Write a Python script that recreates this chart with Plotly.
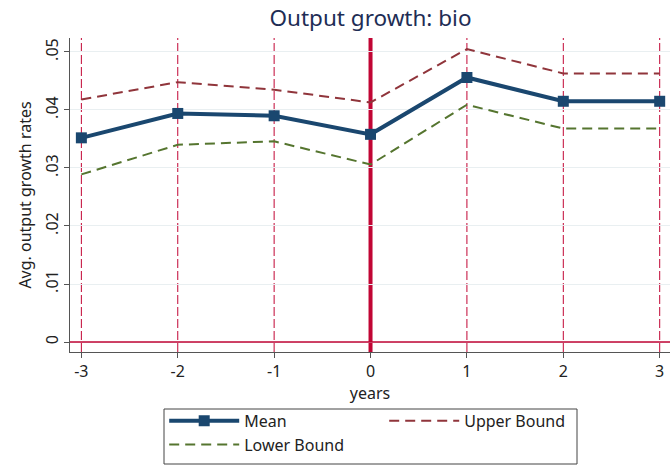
import plotly.graph_objects as go

years = [-3, -2, -1, 0, 1, 2, 3]
mean_vals = [0.0352, 0.0394, 0.0390, 0.0358, 0.0456, 0.0415, 0.0415]
upper_vals = [0.0418, 0.0448, 0.0435, 0.0413, 0.0505, 0.0463, 0.0463]
lower_vals = [0.0289, 0.0340, 0.0346, 0.0306, 0.0409, 0.0368, 0.0368]
dashed_event_years = [-3, -2, -1, 1, 2, 3]
treatment_year = 0
y_ticks = [0, 0.01, 0.02, 0.03, 0.04, 0.05]
y_tick_labels = ["0", ".01", ".02", ".03", ".04", ".05"]

FONT = "Noto Sans"
NAVY = "#1a476f"
MAROON = "#90353b"
GREEN = "#55752f"
CRAN = "#c10534"

fig = go.Figure()
fig.add_trace(go.Scatter(x=years, y=mean_vals, name="Mean", mode="lines+markers",
                         line=dict(color=NAVY, width=4),
                         marker=dict(symbol="square", size=11, color=NAVY)))
fig.add_trace(go.Scatter(x=years, y=upper_vals, name="Upper Bound", mode="lines",
                         line=dict(color=MAROON, width=2, dash="10px,6px")))
fig.add_trace(go.Scatter(x=years, y=lower_vals, name="Lower Bound", mode="lines",
                         line=dict(color=GREEN, width=2, dash="10px,6px")))

for yr in dashed_event_years:
    fig.add_shape(type="line", x0=yr, x1=yr, y0=0, y1=1, xref="x", yref="paper",
                  line=dict(color=CRAN, width=1, dash="9px,3px"), layer="between")
fig.add_shape(type="line", x0=treatment_year, x1=treatment_year, y0=0, y1=1, xref="x", yref="paper",
              line=dict(color=CRAN, width=4), layer="between")
fig.add_shape(type="line", x0=-3.118, x1=3.107, y0=0, y1=0, xref="x", yref="y",
              line=dict(color=CRAN, width=1.6), layer="above")
# legend frame
fig.add_shape(type="rect", xref="paper", yref="paper",
              x0=(164 - 70) / 600, x1=(577 - 70) / 600,
              y0=(352 - 464) / 314, y1=(352 - 409) / 314,
              line=dict(color="#444", width=1), fillcolor="rgba(0,0,0,0)", layer="above")

fig.update_layout(
    width=670, height=468,
    margin=dict(l=70, r=0, t=38, b=116),
    paper_bgcolor="white", plot_bgcolor="white",
    font=dict(family=FONT, size=14, color="#222"),
    title=dict(text="Output growth: bio", x=0.553, xanchor="center", y=0.962, yanchor="middle",
               font=dict(family=FONT, size=22.5, color="#1e2d55")),
    showlegend=True,
    legend=dict(orientation="h", x=0.157, xanchor="left", y=-0.165, yanchor="top",
                borderwidth=0, bgcolor="rgba(0,0,0,0)",
                itemwidth=70, entrywidth=135, entrywidthmode="pixels",
                font=dict(family=FONT, size=16, color="#222"),
                traceorder="normal"),
)
fig.update_xaxes(range=[-3.118, 3.107], tickvals=years, ticktext=[str(v) for v in years],
                 showgrid=False, zeroline=False, showline=True, linecolor="#555", linewidth=1,
                 ticks="outside", ticklen=5, tickcolor="#555",
                 tickfont=dict(size=16, color="#222"),
                 title=dict(text="years", font=dict(size=16, color="#222"), standoff=0))
fig.update_yaxes(range=[-0.001724, 0.05241], tickvals=y_ticks, ticktext=y_tick_labels,
                 tickangle=-90, showgrid=True, gridcolor="#e9eff1", gridwidth=1,
                 zeroline=False, showline=True, linecolor="#555", linewidth=1,
                 ticks="outside", ticklen=5, tickcolor="#555",
                 tickfont=dict(size=16, color="#222"),
                 title=dict(text="Avg. output growth rates", font=dict(size=16, color="#222"), standoff=4))

fig.write_html("out.html")
